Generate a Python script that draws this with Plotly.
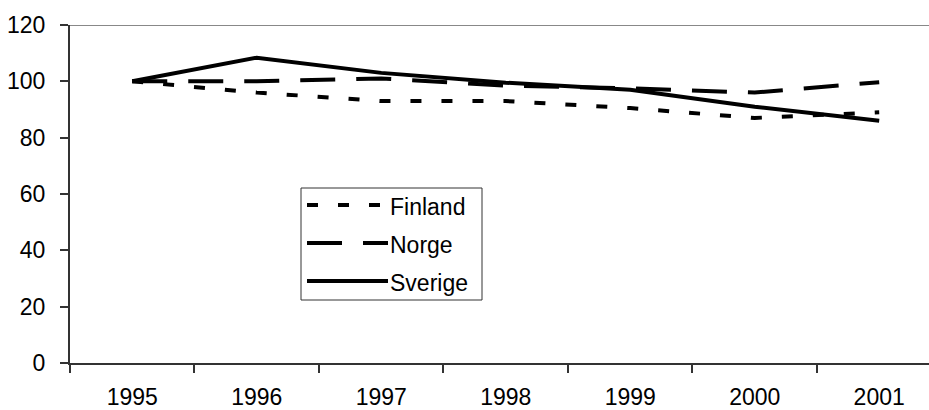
import plotly.graph_objects as go

years = ["1995", "1996", "1997", "1998", "1999", "2000", "2001"]
finland = [100, 96, 93, 93, 90.5, 87, 89]
norge = [100, 100, 101, 98.5, 97.5, 96, 99.7]
sverige = [100, 108.4, 103, 99.5, 97, 91, 86]
y_ticks = [0, 20, 40, 60, 80, 100, 120]

W, H = 929, 410
L, R, T, B = 70, 0, 25, 47
FONT = dict(family="Arial, Liberation Sans, sans-serif", size=23, color="black")
AXIS_COLOR = "#333333"

series = [
    ("Finland", finland, "11px,20px"),
    ("Norge", norge, "35px,21px"),
    ("Sverige", sverige, "solid"),
]


def px_to_paper(x, y):
    """Convert page pixels to paper coordinates of the plot area."""
    return (x - L) / (W - L - R), (H - B - y) / (H - T - B)


fig = go.Figure()
for name, vals, dash in series:
    fig.add_trace(go.Scatter(x=years, y=vals, mode="lines", name=name, showlegend=False,
                             line=dict(color="black", width=4, dash=dash)))

# Top border line at 120
fig.add_shape(type="line", xref="paper", yref="y", x0=0, x1=1, y0=120, y1=120,
              line=dict(color="#888888", width=2))

# Hand-drawn legend box (Excel style, long line samples)
bx0, by0 = px_to_paper(301, 188)
bx1, by1 = px_to_paper(482, 300)
fig.add_shape(type="rect", xref="paper", yref="paper", x0=bx0, x1=bx1, y0=by0, y1=by1,
              line=dict(color="#333333", width=1), fillcolor="white")
legend_rows = [205, 243, 281]
for (name, _, dash), ry in zip(series, legend_rows):
    lx0, ly = px_to_paper(307, ry)
    lx1, _ = px_to_paper(388, ry)
    fig.add_shape(type="line", xref="paper", yref="paper", x0=lx0, x1=lx1, y0=ly, y1=ly,
                  line=dict(color="black", width=4, dash=dash))
    tx, ty = px_to_paper(388, ry + 2)
    fig.add_annotation(x=tx, y=ty, xref="paper", yref="paper", text=name, showarrow=False,
                       xanchor="left", yanchor="middle", font=FONT)

fig.update_layout(
    width=W,
    height=H,
    margin=dict(l=L, r=R, t=T, b=B),
    paper_bgcolor="white",
    plot_bgcolor="white",
    font=FONT,
    showlegend=False,
)
fig.update_xaxes(
    type="category",
    range=[-0.5, 6.4],
    tickson="boundaries",
    ticks="outside",
    ticklen=8,
    tickwidth=1.5,
    tickcolor=AXIS_COLOR,
    showline=True,
    linecolor=AXIS_COLOR,
    linewidth=2,
    showgrid=False,
    zeroline=False,
    ticklabelstandoff=12,
    tickfont=FONT,
    automargin=False,
)
fig.update_yaxes(
    range=[0, 120],
    tickvals=y_ticks,
    ticks="outside",
    ticklen=8,
    tickwidth=1.5,
    tickcolor=AXIS_COLOR,
    showline=True,
    linecolor=AXIS_COLOR,
    linewidth=2,
    showgrid=False,
    zeroline=False,
    ticklabelstandoff=10,
    tickfont=FONT,
    automargin=False,
)

# page body has a default 8px margin; drop it so the figure fills the window
fig.write_html("out.html", config={"displayModeBar": False},
               post_script="document.body.style.margin = '0';")
